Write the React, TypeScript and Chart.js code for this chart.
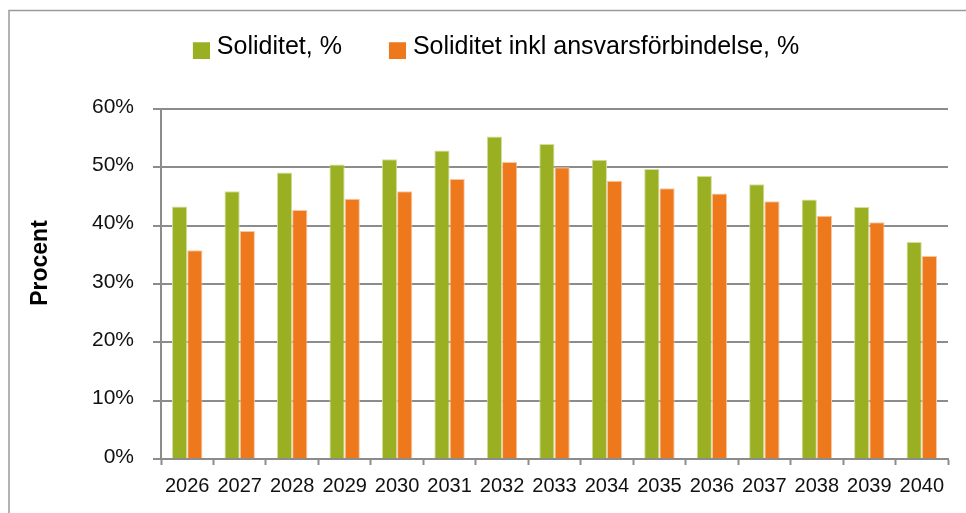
import React, { useEffect, useRef } from 'react';
import { Chart, registerables } from 'chart.js';

Chart.register(...registerables);

const years = ['2026', '2027', '2028', '2029', '2030', '2031', '2032', '2033', '2034', '2035', '2036', '2037', '2038', '2039', '2040'];
const soliditet = [43.3, 45.9, 49.1, 50.5, 51.4, 52.9, 55.3, 54.0, 51.3, 49.7, 48.5, 47.1, 44.5, 43.2, 37.2];
const soliditetInkl = [35.8, 39.1, 42.7, 44.6, 45.9, 48.0, 50.9, 50.0, 47.7, 46.4, 45.5, 44.2, 41.7, 40.6, 34.8];
const yTicks = [0, 10, 20, 30, 40, 50, 60];
const seriesNames = ['Soliditet, %', 'Soliditet inkl ansvarsförbindelse, %'];
const seriesColors = ['#9BAF23', '#EE781C'];
const seriesEdges = ['#d3dd9c', '#f7c7a0'];
const yTitle = 'Procent';

const FONT = "'Liberation Sans', Arial, sans-serif";

function makeMarker(color: string): HTMLCanvasElement {
  const c = document.createElement('canvas');
  c.width = 59;
  c.height = 25;
  const g = c.getContext('2d')!;
  g.fillStyle = color;
  g.fillRect(42, 8, 17, 17);
  return c;
}

const framePlugin = {
  id: 'frame',
  beforeDraw(chart: any) {
    const ctx = chart.ctx;
    ctx.save();
    ctx.strokeStyle = '#9a9a9a';
    ctx.lineWidth = 1.5;
    ctx.strokeRect(9, 10.5, 2000, 2000);
    ctx.restore();
  },
};

const yTitlePlugin = {
  id: 'yTitleText',
  afterDraw(chart: any) {
    const ctx = chart.ctx;
    ctx.save();
    ctx.translate(41, 263);
    ctx.rotate(-Math.PI / 2);
    ctx.font = `bold 23px ${FONT}`;
    ctx.textAlign = 'center';
    ctx.textBaseline = 'middle';
    ctx.fillStyle = '#000';
    ctx.fillText(yTitle, 0, 0);
    ctx.restore();
  },
};

export default function App() {
  const ref = useRef<HTMLCanvasElement | null>(null);

  useEffect(() => {
    if (!ref.current) return;
    Chart.defaults.font.family = FONT;
    const markers = seriesColors.map(makeMarker);
    const chart = new Chart(ref.current, {
      type: 'bar',
      data: {
        labels: years,
        datasets: [
          {
            label: seriesNames[0],
            data: soliditet,
            backgroundColor: seriesColors[0],
            borderColor: seriesEdges[0],
            borderWidth: 1,
            categoryPercentage: 0.58,
            barPercentage: 1,
          },
          {
            label: seriesNames[1],
            data: soliditetInkl,
            backgroundColor: seriesColors[1],
            borderColor: seriesEdges[1],
            borderWidth: 1,
            categoryPercentage: 0.58,
            barPercentage: 1,
          },
        ],
      },
      options: {
        responsive: false,
        animation: false,
        devicePixelRatio: 1,
        layout: { padding: { top: 23.7, left: 7.5, right: 18, bottom: 0 } },
        plugins: {
          tooltip: { enabled: false },
          legend: {
            position: 'top',
            align: 'center',
            labels: {
              usePointStyle: true,
              pointStyleWidth: 48,
              boxHeight: 25,
              padding: 10.5,
              color: '#000',
              font: { family: FONT, size: 25 },
              generateLabels: (c: any) =>
                Chart.defaults.plugins.legend.labels
                  .generateLabels(c)
                  .map((it: any, i: number) => ({ ...it, pointStyle: markers[i] })),
            },
          },
          title: {
            display: true,
            text: '',
            weight: 500,
            font: { size: 1 },
            padding: { top: 0, bottom: 38.6 },
          } as any,
        },
        scales: {
          x: {
            grid: {
              display: true,
              drawOnChartArea: false,
              drawTicks: true,
              tickLength: 6,
              tickColor: '#8c8c8c',
              tickWidth: 2,
              offset: true,
            },
            border: { color: '#8c8c8c', width: 2 },
            ticks: {
              color: '#111',
              font: { family: FONT, size: 20 },
              padding: 9,
              maxRotation: 0,
              autoSkip: false,
            },
            afterFit: (s: any) => {
              s.height = 54;
            },
          },
          y: {
            min: yTicks[0],
            max: yTicks[yTicks.length - 1],
            afterBuildTicks: (s: any) => {
              s.ticks = yTicks.map((v) => ({ value: v }));
            },
            ticks: {
              color: '#111',
              font: { family: FONT, size: 21 },
              padding: 19,
              labelOffset: -2,
              callback: (v: any) => `${v}%`,
            },
            grid: {
              color: '#8c8c8c',
              lineWidth: 2,
              tickLength: 8,
              tickColor: '#8c8c8c',
              tickWidth: 2,
            },
            border: { color: '#8c8c8c', width: 2 },
            afterFit: (s: any) => {
              s.width = 153.5;
            },
          },
        },
      } as any,
      plugins: [framePlugin, yTitlePlugin],
    });
    return () => chart.destroy();
  }, []);

  return (
    <div style={{ position: 'fixed', left: 0, top: 0, width: 966, height: 513, background: '#fff' }}>
      <canvas ref={ref} width={966} height={513} />
    </div>
  );
}
